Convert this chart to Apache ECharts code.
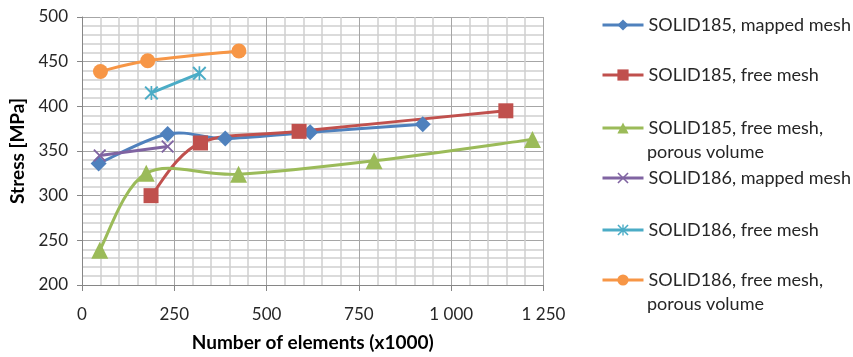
<!DOCTYPE html>
<html><head><meta charset="utf-8">
<script src="https://cdn.jsdelivr.net/npm/echarts@6/dist/echarts.min.js"></script>
<style>html,body{margin:0;padding:0;background:#fff}#c{width:853px;height:357px}</style>
</head><body><div id="c"></div>
<script>
const seriesNames = ['SOLID185, mapped mesh','SOLID185, free mesh','SOLID185, free mesh, porous volume','SOLID186, mapped mesh','SOLID186, free mesh','SOLID186, free mesh, porous volume'];
const s185MappedX = [45, 232, 388, 618, 923];
const s185MappedY = [336, 369, 364, 371, 380];
const s185FreeX = [187, 321, 588, 1148];
const s185FreeY = [300, 359, 372, 395];
const s185PorousX = [48, 174, 424, 791, 1220];
const s185PorousY = [239, 325, 324, 339, 363];
const s186MappedX = [48, 232];
const s186MappedY = [345, 355];
const s186FreeX = [188, 318];
const s186FreeY = [415, 437];
const s186PorousX = [50, 178, 425];
const s186PorousY = [439, 451, 462];
const xTicks = [0, 250, 500, 750, 1000, 1250];
const yTicks = [200, 250, 300, 350, 400, 450, 500];

const colors = ['#4F81BD','#C0504D','#9BBB59','#8064A2','#4BACC6','#F79646'];
const xPath = 'path://M0,1L1,0L5,4L9,0L10,1L6,5L10,9L9,10L5,6L1,10L0,9L4,5Z';
const starPath = 'path://M0,1L1,0L5,4L9,0L10,1L6,5L10,9L9,10L5,6L1,10L0,9L4,5ZM4.4,0L5.6,0L5.6,10L4.4,10Z';
const symbols = ['diamond','rect','triangle',xPath,starPath,'circle'];
const sizes = [16,15,17,13,14,15];
const xs = [s185MappedX,s185FreeX,s185PorousX,s186MappedX,s186FreeX,s186PorousX];
const ys = [s185MappedY,s185FreeY,s185PorousY,s186MappedY,s186FreeY,s186PorousY];
const FONT = 'Lato';

// Smoothed curves (Excel-like Catmull-Rom bezier) drawn in pixel space via the axes
const curveSeries = xs.map((xa,i)=>({
  type:'custom', z:2, silent:true,
  data: xa.map((x,j)=>[x, ys[i][j]]),
  renderItem:(params, api)=>{
    const j = params.dataIndex;
    if (j === 0) return null;
    const P = xa.map((x,k)=>api.coord([x, ys[i][k]]));
    const n = P.length;
    const p0 = P[Math.max(j-2,0)], p1 = P[j-1], p2 = P[j], p3 = P[Math.min(j+1,n-1)];
    const t = 1/6;
    return {type:'bezierCurve', shape:{
      x1:p1[0], y1:p1[1], x2:p2[0], y2:p2[1],
      cpx1:p1[0]+(p2[0]-p0[0])*t, cpy1:p1[1]+(p2[1]-p0[1])*t,
      cpx2:p2[0]-(p3[0]-p1[0])*t, cpy2:p2[1]-(p3[1]-p1[1])*t},
      style:{stroke:colors[i], lineWidth:3, fill:null}};
  }
}));

const markerSeries = xs.map((xa,i)=>({
  name: seriesNames[i], type:'line',
  data: xa.map((x,j)=>[x, ys[i][j]]),
  symbol: symbols[i], symbolSize: sizes[i],
  lineStyle:{color:colors[i], width:3, opacity:0},
  itemStyle:{color:colors[i]},
  emphasis:{disabled:true}, z: 3
}));

const legendCenters = [25, 75, 128, 178, 230, 280];
const legends = seriesNames.map((n,i)=>({
  data:[n], left:601, top:legendCenters[i]-12, orient:'vertical', padding:0,
  itemWidth:41, itemHeight:14, itemGap:0, selectedMode:false,
  lineStyle:{opacity:1, width:3},
  formatter: name => name.replace(', porous volume', ','),
  textStyle:{fontFamily:FONT, fontSize:18, color:'#262626', lineHeight:24}
}));

const chart = echarts.init(document.getElementById('c'), null, {renderer:'canvas'});
chart.setOption({
  animation:false,
  color: colors,
  grid:{left:81.5, right:309.5, top:17, bottom:69, containLabel:false},
  legend: legends,
  graphic: [
    {type:'text', left:647, top:143, style:{text:'porous volume', font:'18px Lato', fill:'#262626'}},
    {type:'text', left:647, top:295, style:{text:'porous volume', font:'18px Lato', fill:'#262626'}}
  ],
  xAxis:{type:'value', min:xTicks[0], max:xTicks[xTicks.length-1], interval:250,
    name:'Number of elements (x1000)', nameLocation:'middle', nameGap:48,
    nameTextStyle:{fontFamily:FONT, fontSize:19, fontWeight:'bold', color:'#000'},
    axisLine:{show:true, lineStyle:{color:'#868686', width:1}},
    axisTick:{show:true, length:6, lineStyle:{color:'#868686'}},
    axisLabel:{fontFamily:FONT, fontSize:17, color:'#262626', margin:21,
      formatter:v=>String(v).replace(/\B(?=(\d{3})+(?!\d))/g,' ')},
    splitLine:{show:true, lineStyle:{color:'#A6A6A6', width:1}},
    minorTick:{show:false, splitNumber:5},
    minorSplitLine:{show:true, lineStyle:{color:'#D0D0D0', width:1.5}}
  },
  yAxis:{type:'value', min:yTicks[0], max:yTicks[yTicks.length-1], interval:50,
    name:'Stress [MPa]', nameLocation:'middle', nameGap:55, nameRotate:90,
    nameTextStyle:{fontFamily:FONT, fontSize:19, fontWeight:'bold', color:'#000'},
    axisLine:{show:true, lineStyle:{color:'#868686', width:1}},
    axisTick:{show:true, length:5, lineStyle:{color:'#868686'}},
    axisLabel:{fontFamily:FONT, fontSize:17, color:'#262626', margin:14},
    splitLine:{show:true, lineStyle:{color:'#A6A6A6', width:1}},
    minorTick:{show:false, splitNumber:5},
    minorSplitLine:{show:true, lineStyle:{color:'#D0D0D0', width:1.5}}
  },
  series: curveSeries.concat(markerSeries)
});
</script></body></html>
